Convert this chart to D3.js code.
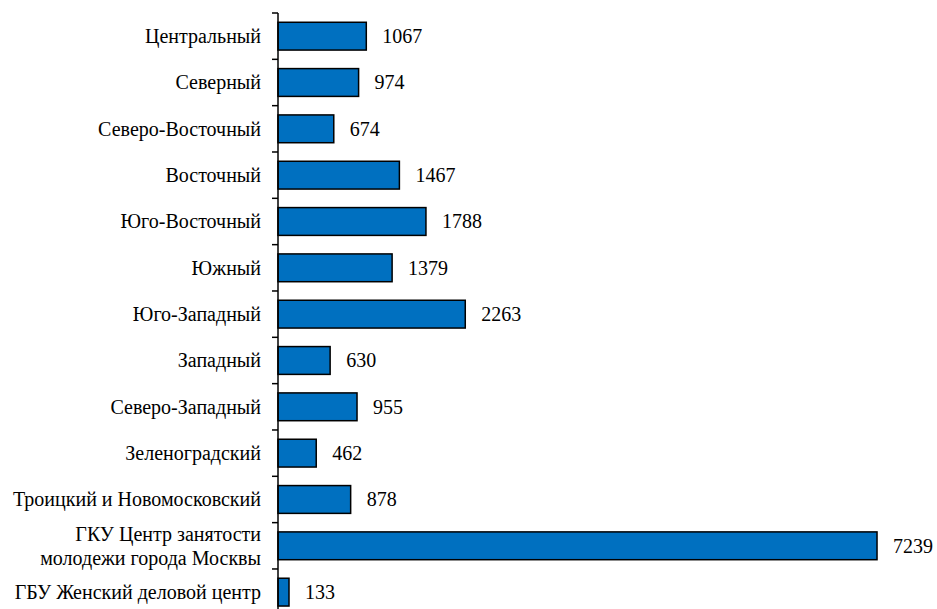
<!DOCTYPE html>
<html>
<head>
<meta charset="utf-8">
<script src="https://cdn.jsdelivr.net/npm/d3@7"></script>
<style>
  body { margin: 0; background: #fff; }
  svg { display: block; }
</style>
</head>
<body>
<svg id="chart" width="937" height="609"></svg>
<script>
const categories = [
  ["Центральный"],
  ["Северный"],
  ["Северо-Восточный"],
  ["Восточный"],
  ["Юго-Восточный"],
  ["Южный"],
  ["Юго-Западный"],
  ["Западный"],
  ["Северо-Западный"],
  ["Зеленоградский"],
  ["Троицкий и Новомосковский"],
  ["ГКУ Центр занятости", "молодежи города Москвы"],
  ["ГБУ Женский деловой центр"]
];
const values = [1067, 974, 674, 1467, 1788, 1379, 2263, 630, 955, 462, 878, 7239, 133];

const svg = d3.select("#chart");

const x0 = 278;
const pad = 0.4;
const keys = categories.map(c => c.join(" "));

const y = d3.scaleBand()
  .domain(keys)
  .range([13, 615.3])
  .paddingInner(pad)
  .paddingOuter(pad / 2);

const x = d3.scaleLinear().domain([0, 8000]).range([x0, x0 + 662]);

// bars
svg.selectAll("rect.bar")
  .data(values)
  .join("rect")
  .attr("class", "bar")
  .attr("x", x(0))
  .attr("y", (d, i) => y(keys[i]))
  .attr("width", d => x(d) - x(0))
  .attr("height", y.bandwidth())
  .attr("fill", "#0070C0")
  .attr("stroke", "#000")
  .attr("stroke-width", 1.5);

// axis line
svg.append("line")
  .attr("x1", x0).attr("x2", x0)
  .attr("y1", y.range()[0]).attr("y2", 609)
  .attr("stroke", "#000").attr("stroke-width", 1.5);

// ticks at category boundaries
const step = y.step();
const boundaries = keys.map(k => y(k) - step * pad / 2);
svg.selectAll("line.tick")
  .data(boundaries)
  .join("line")
  .attr("class", "tick")
  .attr("x1", x0 - 6).attr("x2", x0)
  .attr("y1", d => d).attr("y2", d => d)
  .attr("stroke", "#000").attr("stroke-width", 1.5);

// category labels (one text per line)
const lineH = 24;
categories.forEach((lines, i) => {
  const cy = y(keys[i]) + y.bandwidth() / 2;
  const n = lines.length;
  lines.forEach((ln, j) => {
    svg.append("text")
      .attr("class", "cat")
      .attr("text-anchor", "end")
      .attr("x", 261)
      .attr("y", cy + (j - (n - 1) / 2) * lineH + 7)
      .style("font-family", "'Liberation Serif'")
      .style("font-size", "20px")
      .style("fill", "#000")
      .text(ln);
  });
});

// value labels
svg.selectAll("text.val")
  .data(values)
  .join("text")
  .attr("class", "val")
  .attr("x", d => x(d) + 16)
  .attr("y", (d, i) => y(keys[i]) + y.bandwidth() / 2 + 7)
  .style("font-family", "'Liberation Serif'")
  .style("font-size", "20px")
  .style("fill", "#000")
  .text(d => d);
</script>
</body>
</html>
